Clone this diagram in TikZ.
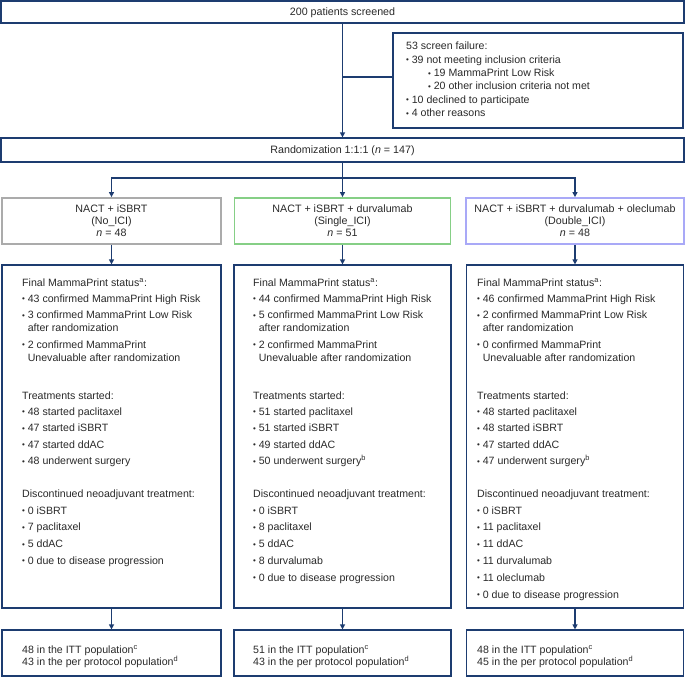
\documentclass[tikz,border=0pt]{standalone}
\usepackage{fontspec}
\setmainfont{Liberation Sans}
\usetikzlibrary{arrows.meta}
\definecolor{navy}{HTML}{1D3C70}
\definecolor{txt}{HTML}{2A2A2A}
\definecolor{armgray}{HTML}{ABABAB}
\definecolor{armgreen}{HTML}{86CF86}
\definecolor{armblue}{HTML}{A9A9F7}
\newcommand{\bl}{\makebox[5.6pt][l]{\raisebox{0.5pt}{\fontsize{8}{8}\selectfont •}}}
\newcommand{\ind}{\hspace*{5.6pt}}
\begin{document}
\begin{tikzpicture}[x=1pt,y=-1pt,
  box/.style={draw=navy, line width=1.2pt, inner sep=0pt, fill=white},
  armbox/.style={line width=1.8pt, inner sep=0pt, fill=white},
  conn/.style={draw=navy, line width=1.2pt},
  arr/.style={conn, -{Triangle[length=5pt,width=5pt]}},
  lbl/.style={inner sep=0pt, anchor=base west, text=txt, font=\fontsize{10.6}{13}\selectfont},
  ctr/.style={inner sep=0pt, anchor=base, text=txt, font=\fontsize{10.7}{13}\selectfont}
]
\useasboundingbox[fill=white] (0,0) rectangle (685,677);

% boxes
\node[box, minimum width=683pt, minimum height=22pt] (top) at (342.5,12) {};
\node[box, minimum width=290pt, minimum height=95pt] (screen) at (538,80.5) {};
\node[box, minimum width=683pt, minimum height=24pt] (rand) at (342.5,150) {};
\node[armbox, draw=armgray, minimum width=219pt, minimum height=46pt] (arm1) at (111.5,221) {};
\node[armbox, draw=armgreen, minimum width=216pt, minimum height=46pt] (arm2) at (342.5,221) {};
\node[armbox, draw=armblue, minimum width=218pt, minimum height=46pt] (arm3) at (575,221) {};
\node[box, minimum width=219pt, minimum height=343pt] (det1) at (111.5,436.5) {};
\node[box, minimum width=217pt, minimum height=343pt] (det2) at (342.5,436.5) {};
\node[box, minimum width=217pt, minimum height=343pt] (det3) at (575,436.5) {};
\node[box, minimum width=219pt, minimum height=46pt] (bot1) at (111.5,653) {};
\node[box, minimum width=217pt, minimum height=46pt] (bot2) at (342.5,653) {};
\node[box, minimum width=217pt, minimum height=46pt] (bot3) at (575,653) {};

% connectors
\draw[arr] (top.south) -- (rand.north);
\coordinate (sfj) at (342.5,77);
\draw[conn] (sfj) -- (sfj -| screen.west);
\coordinate (split) at (342.5,178);
\draw[arr] (rand.south) -- (arm2.north);
\draw[arr] (split) -| (arm1.north);
\draw[arr] (split) -| (arm3.north);
\foreach \c in {1,2,3}{
  \draw[arr] (arm\c.south) -- (det\c.north);
  \draw[arr] (det\c.south) -- (bot\c.north);
}

% top texts
\node[ctr] (ttop) at (342.5,15.5) {200 patients screened};
\node[ctr] (trand) at (342.5,153.5) {Randomization 1:1:1 (\textit{n} = 147)};

% screen failure
\foreach \xx/\yy/\ttext [count=\i] in {
  406/50/{53 screen failure:},
  406/63.3/{\bl 39 not meeting inclusion criteria},
  428/76.6/{\bl 19 MammaPrint Low Risk},
  428/89.9/{\bl 20 other inclusion criteria not met},
  406/103.2/{\bl 10 declined to participate},
  406/116.5/{\bl 4 other reasons}}
  \node[lbl] (sf\i) at (\xx,\yy) {\ttext};

% arms
\foreach \xx/\aa/\bb/\nn [count=\i] in {
  111.5/{NACT + iSBRT}/{(No\_ICI)}/48,
  342.5/{NACT + iSBRT + durvalumab}/{(Single\_ICI)}/51,
  575/{NACT + iSBRT + durvalumab + oleclumab}/{(Double\_ICI)}/48}{
  \node[ctr] (arma\i) at (\xx,212.5) {\aa};
  \node[ctr] (armb\i) at (\xx,224.5) {\bb};
  \node[ctr] (armc\i) at (\xx,236.5) {\textit{n} = \nn};
}

% column 1
\foreach \yy/\ttext [count=\i] in {
  286/{Final MammaPrint status\textsuperscript{a}:},
  302/{\bl 43 confirmed MammaPrint High Risk},
  318.5/{\bl 3 confirmed MammaPrint Low Risk},
  331.5/{\ind after randomization},
  348/{\bl 2 confirmed MammaPrint},
  361/{\ind Unevaluable after randomization},
  399/{Treatments started:},
  415/{\bl 48 started paclitaxel},
  431.5/{\bl 47 started iSBRT},
  448/{\bl 47 started ddAC},
  464.5/{\bl 48 underwent surgery},
  497/{Discontinued neoadjuvant treatment:},
  514/{\bl 0 iSBRT},
  530.8/{\bl 7 paclitaxel},
  547.6/{\bl 5 ddAC},
  564.4/{\bl 0 due to disease progression},
  653/{48 in the ITT population\textsuperscript{c}},
  665/{43 in the per protocol population\textsuperscript{d}}}
  \node[lbl] (ca\i) at (22,\yy) {\ttext};

% column 2
\foreach \yy/\ttext [count=\i] in {
  286/{Final MammaPrint status\textsuperscript{a}:},
  302/{\bl 44 confirmed MammaPrint High Risk},
  318.5/{\bl 5 confirmed MammaPrint Low Risk},
  331.5/{\ind after randomization},
  348/{\bl 2 confirmed MammaPrint},
  361/{\ind Unevaluable after randomization},
  399/{Treatments started:},
  415/{\bl 51 started paclitaxel},
  431.5/{\bl 51 started iSBRT},
  448/{\bl 49 started ddAC},
  464.5/{\bl 50 underwent surgery\textsuperscript{b}},
  497/{Discontinued neoadjuvant treatment:},
  514/{\bl 0 iSBRT},
  530.8/{\bl 8 paclitaxel},
  547.6/{\bl 5 ddAC},
  564.4/{\bl 8 durvalumab},
  581.2/{\bl 0 due to disease progression},
  653/{51 in the ITT population\textsuperscript{c}},
  665/{43 in the per protocol population\textsuperscript{d}}}
  \node[lbl] (cb\i) at (253,\yy) {\ttext};

% column 3
\foreach \yy/\ttext [count=\i] in {
  286/{Final MammaPrint status\textsuperscript{a}:},
  302/{\bl 46 confirmed MammaPrint High Risk},
  318.5/{\bl 2 confirmed MammaPrint Low Risk},
  331.5/{\ind after randomization},
  348/{\bl 0 confirmed MammaPrint},
  361/{\ind Unevaluable after randomization},
  399/{Treatments started:},
  415/{\bl 48 started paclitaxel},
  431.5/{\bl 48 started iSBRT},
  448/{\bl 47 started ddAC},
  464.5/{\bl 47 underwent surgery\textsuperscript{b}},
  497/{Discontinued neoadjuvant treatment:},
  514/{\bl 0 iSBRT},
  530.8/{\bl 11 paclitaxel},
  547.6/{\bl 11 ddAC},
  564.4/{\bl 11 durvalumab},
  581.2/{\bl 11 oleclumab},
  598/{\bl 0 due to disease progression},
  653/{48 in the ITT population\textsuperscript{c}},
  665/{45 in the per protocol population\textsuperscript{d}}}
  \node[lbl] (cc\i) at (477,\yy) {\ttext};
\end{tikzpicture}
\end{document}
